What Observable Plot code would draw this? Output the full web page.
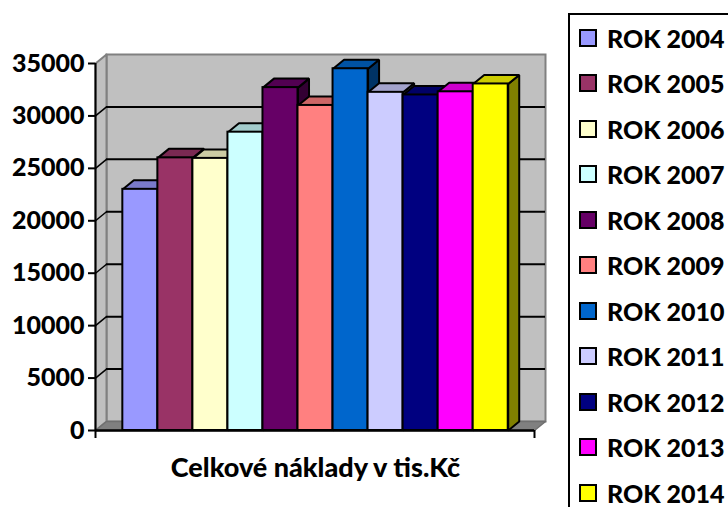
<!DOCTYPE html>
<html><head><meta charset="utf-8">
<script src="https://cdn.jsdelivr.net/npm/d3@7"></script>
<script src="https://cdn.jsdelivr.net/npm/@observablehq/plot@0.6"></script>
<style>
body{margin:0;background:#fff;}
#wrap{position:relative;width:728px;height:507px;overflow:hidden;font-family:Lato,"Open Sans",sans-serif;}
#chart{position:absolute;left:0;top:0;}
#legend{position:absolute;left:568px;top:13px;width:200px;height:520px;border:2px solid #000;box-sizing:border-box;}
.item{position:absolute;left:9px;height:24px;line-height:24px;display:flex;align-items:center;font-weight:900;font-size:25px;color:#000;white-space:nowrap;}
.sw{width:14px;height:14px;border:2px solid #000;margin-right:10px;flex:none;}
</style></head><body>
<div id="wrap"><div id="chart"></div><div id="legend"></div></div>
<script>
// ---- data ----
const years = ["ROK 2004","ROK 2005","ROK 2006","ROK 2007","ROK 2008","ROK 2009","ROK 2010","ROK 2011","ROK 2012","ROK 2013","ROK 2014"];
const values = [23000, 26000, 25950, 28450, 32700, 31000, 34500, 32250, 32000, 32300, 33050];
const colors = ["#9999FF","#993366","#FFFFCC","#CCFFFF","#660066","#FF8080","#0066CC","#CCCCFF","#000080","#FF00FF","#FFFF00"];
const yTicks = [0, 5000, 10000, 15000, 20000, 25000, 30000, 35000];
const category = "Celkové náklady v tis.Kč";

// ---- layout ----
const W = 560, H = 507, mL = 95, mR = 26, mT = 63, mB = 77;
const xMax = 12.53, barStart = 0.78, yMax = 35000;
const DX = 11, DY = 9; // 3D depth in px
const pxPerX = (W - mL - mR) / xMax;
const pxPerY = (H - mT - mB) / yMax;
const ddx = DX / pxPerX, ddy = DY / pxPerY;

const shade = (c, k) => { const r = d3.rgb(c); return d3.rgb(r.r * k, r.g * k, r.b * k).formatHex(); };

const bars = years.map((yr, i) => ({yr, v: values[i], c: colors[i], x1: barStart + i, x2: barStart + i + 1}));

const sides = bars.flatMap((b, i) => [
  {id: i, x: b.x2, y: 0}, {id: i, x: b.x2, y: b.v},
  {id: i, x: b.x2 + ddx, y: b.v + ddy}, {id: i, x: b.x2 + ddx, y: ddy}
].map(p => ({...p, fill: shade(b.c, 0.5)})));
const tops = bars.flatMap((b, i) => [
  {id: i, x: b.x1, y: b.v}, {id: i, x: b.x2, y: b.v},
  {id: i, x: b.x2 + ddx, y: b.v + ddy}, {id: i, x: b.x1 + ddx, y: b.v + ddy}
].map(p => ({...p, fill: shade(b.c, 0.8)})));

const leftWall = [{x: 0, y: 0}, {x: 0, y: yMax}, {x: ddx, y: yMax + ddy}, {x: ddx, y: ddy}];
const floor = [{x: 0, y: 0}, {x: xMax, y: 0}, {x: xMax + ddx, y: ddy}, {x: ddx, y: ddy}];
const grid = yTicks.filter(t => t > 0 && t < yMax);
const xMid = barStart + bars.length / 2;

const chart = Plot.plot({
  width: W, height: H,
  marginLeft: mL, marginRight: mR, marginTop: mT, marginBottom: mB,
  x: {domain: [0, xMax], axis: null},
  y: {domain: [0, yMax], axis: null},
  color: {type: "identity"},
  style: {fontFamily: "Lato, 'Open Sans', sans-serif", fontWeight: "900", fontSize: "25px", color: "#000", background: "transparent", overflow: "visible"},
  marks: [
    Plot.frame({fill: "#C0C0C0", stroke: "#808080", strokeWidth: 2, dx: DX, dy: -DY}),
    Plot.line(leftWall, {x: "x", y: "y", curve: "linear-closed", fill: "#C0C0C0", stroke: "#808080", strokeWidth: 2}),
    Plot.line(floor, {x: "x", y: "y", curve: "linear-closed", fill: "#808080", stroke: "#707070", strokeWidth: 1.5}),
    Plot.ruleY(grid, {x1: 0, x2: xMax, dx: DX, dy: -DY, stroke: "#000", strokeWidth: 2}),
    Plot.link(grid, {x1: 0, y1: d => d, x2: ddx, y2: d => d + ddy, stroke: "#000", strokeWidth: 1.5}),
    Plot.line(sides, {x: "x", y: "y", z: "id", curve: "linear-closed", fill: "fill", stroke: "#000", strokeWidth: 2, strokeLinejoin: "miter"}),
    Plot.line(tops, {x: "x", y: "y", z: "id", curve: "linear-closed", fill: "fill", stroke: "#000", strokeWidth: 2, strokeLinejoin: "miter"}),
    Plot.rect(bars, {x1: "x1", x2: "x2", y1: 0, y2: "v", fill: "c", stroke: "#000", strokeWidth: 2}),
    Plot.ruleX([0], {y1: 0, y2: yMax, stroke: "#000", strokeWidth: 2}),
    Plot.ruleY([0], {x1: 0, x2: xMax, stroke: "#000", strokeWidth: 2.5}),
    Plot.axisY(yTicks, {tickSize: 7, tickPadding: 4, strokeWidth: 2, fontSize: 25, fontWeight: "900", fill: "#000", tickFormat: d3.format("d")}),
    Plot.axisX([0, xMax], {tickSize: 8, strokeWidth: 2, tickFormat: () => ""}),
    Plot.text([category], {x: () => xMid, y: () => 0, dy: 38, text: d => d, fontSize: 27, fontWeight: "900", fill: "#000", lineAnchor: "middle"})
  ]
});
document.getElementById("chart").append(chart);

const legend = document.getElementById("legend");
years.forEach((yr, i) => {
  const it = document.createElement("div");
  it.className = "item";
  it.style.top = (10.5 + 45.5 * i) + "px";
  const sw = document.createElement("span");
  sw.className = "sw";
  sw.style.background = colors[i];
  const tx = document.createElement("span");
  tx.textContent = yr;
  it.append(sw, tx);
  legend.append(it);
});
</script>
</body></html>
